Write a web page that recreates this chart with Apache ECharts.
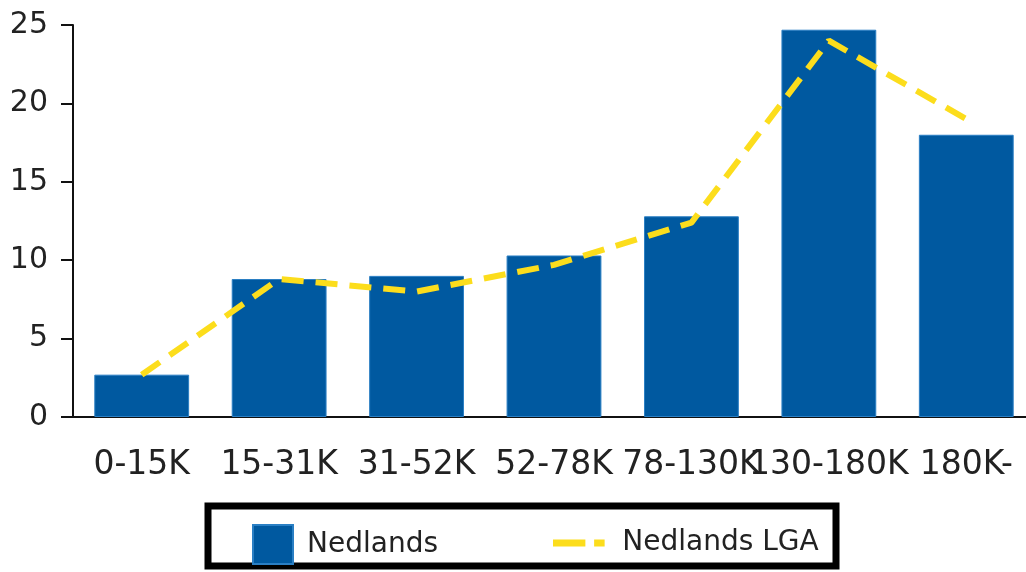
<!DOCTYPE html>
<html>
<head>
<meta charset="utf-8">
<script src="https://cdn.jsdelivr.net/npm/echarts@6/dist/echarts.min.js"></script>
<style>html,body{margin:0;padding:0;background:#fff;overflow:hidden}#c{width:1036px;height:572px}</style>
</head>
<body>
<div id="c"></div>
<script>
const categories = ['0-15K', '15-31K', '31-52K', '52-78K', '78-130K', '130-180K', '180K-'];
const suburbValues = [2.7, 8.8, 9.0, 10.3, 12.8, 24.7, 18.0];
const lgaValues = [2.7, 8.8, 8.0, 9.7, 12.4, 24.0, 19.0];
const yTicks = { min: 0, max: 25, interval: 5 };

const FONT = '"DejaVu Sans", sans-serif';
const chart = echarts.init(document.getElementById('c'), null, { renderer: 'canvas' });
chart.setOption({
  animation: false,
  grid: { left: 73, top: 25, width: 962, height: 392, containLabel: false },
  xAxis: {
    type: 'category',
    data: categories,
    axisLine: { lineStyle: { color: '#111', width: 2 } },
    axisTick: { alignWithLabel: true, length: 16, lineStyle: { color: '#111', width: 2 } },
    axisLabel: { margin: 32, color: '#222', fontSize: 33, fontFamily: FONT, interval: 0, hideOverlap: false }
  },
  yAxis: {
    type: 'value',
    min: yTicks.min, max: yTicks.max, interval: yTicks.interval,
    splitLine: { show: false },
    axisLine: { show: true, lineStyle: { color: '#111', width: 2 } },
    axisTick: { show: true, length: 12, lineStyle: { color: '#111', width: 2 } },
    axisLabel: { margin: 25, color: '#222', fontSize: 30, fontFamily: FONT }
  },
  legend: [
    {
      data: [{ name: 'Nedlands', icon: 'rect' }],
      left: 247, top: 519,
      itemWidth: 40, itemHeight: 39,
      textStyle: { fontSize: 28, color: '#222', fontFamily: FONT, padding: [0, 0, 0, 9] }
    },
    {
      data: [{ name: 'Nedlands LGA', icon: 'path://M0,0h37v8h-37z M47,0h12v8h-12z' }],
      left: 548, top: 524,
      itemWidth: 57, itemHeight: 7,
      textStyle: { fontSize: 28, color: '#222', fontFamily: FONT, padding: [0, 0, 0, 10] }
    }
  ],
  graphic: [{
    type: 'rect',
    shape: { x: 208, y: 506, width: 628, height: 60 },
    style: { fill: 'none', stroke: '#000', lineWidth: 7 },
    silent: true
  }],
  series: [
    {
      name: 'Nedlands', type: 'bar', data: suburbValues,
      barCategoryGap: '31%',
      itemStyle: { color: '#0059A0', borderColor: '#2a7fc4', borderWidth: 1 }
    },
    {
      name: 'Nedlands LGA', type: 'line', data: lgaValues,
      symbol: 'none', itemStyle: { color: '#FCDD1C' },
      lineStyle: { color: '#FCDD1C', width: 6, type: [22, 12] }
    }
  ]
});
</script>
</body>
</html>
